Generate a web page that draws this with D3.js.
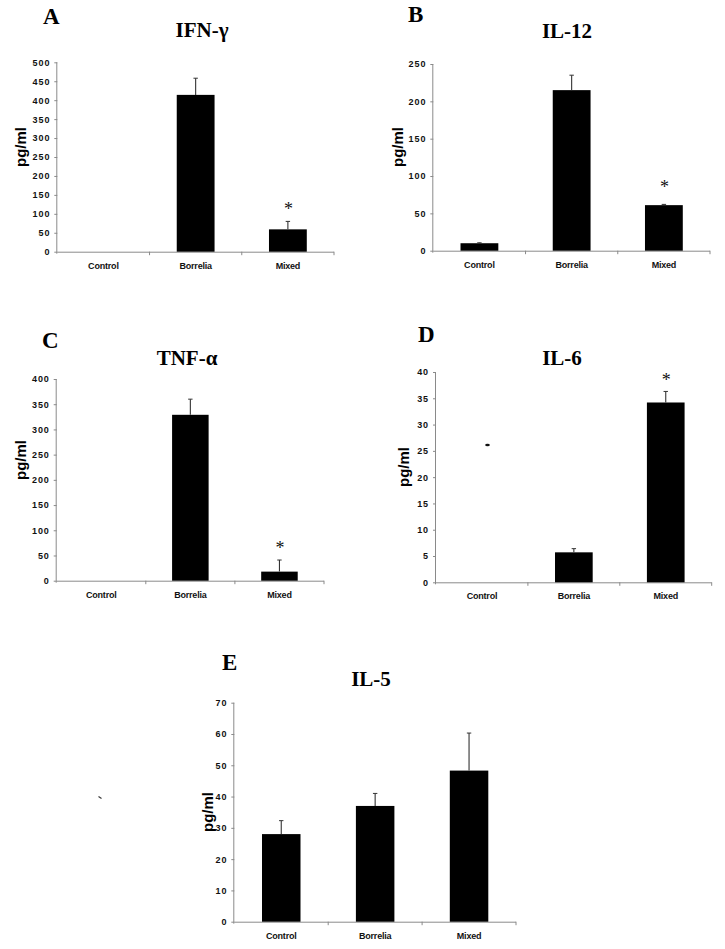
<!DOCTYPE html>
<html>
<head>
<meta charset="utf-8">
<script src="https://cdn.jsdelivr.net/npm/d3@7"></script>
<style>
  html, body { margin: 0; padding: 0; background: #fff; }
  svg { display: block; }
</style>
</head>
<body>
<svg id="chart" width="725" height="949"></svg>
<script>
// ---------------- DATA ----------------
const categories = ["Control", "Borrelia", "Mixed"];

const ifnValues   = [0, 414, 59];
const ifnErrors   = [0, 44, 21];
const ifnSig      = [false, false, true];
const ifnTicks    = [0, 50, 100, 150, 200, 250, 300, 350, 400, 450, 500];

const il12Values  = [10, 215, 61];
const il12Errors  = [0.6, 20, 1];
const il12Sig     = [false, false, true];
const il12Ticks   = [0, 50, 100, 150, 200, 250];

const tnfValues   = [0, 329, 18];
const tnfErrors   = [0, 31, 23];
const tnfSig      = [false, false, true];
const tnfTicks    = [0, 50, 100, 150, 200, 250, 300, 350, 400];

const il6Values   = [0, 5.7, 34.2];
const il6Errors   = [0, 0.7, 2.1];
const il6Sig      = [false, false, true];
const il6Ticks    = [0, 5, 10, 15, 20, 25, 30, 35, 40];

const il5Values   = [28, 37, 48.3];
const il5Errors   = [4.3, 4, 12];
const il5Sig      = [false, false, false];
const il5Ticks    = [0, 10, 20, 30, 40, 50, 60, 70];

// ---------------- LAYOUT ----------------
const panels = [
  { letter: "A", title: "IFN-\u03B3", values: ifnValues, errors: ifnErrors, sig: ifnSig, ticks: ifnTicks,
    x0: 57.3, x1: 334, y0: 251.7, y1: 62.3, titleX: 202, titleY: 37, letterX: 43, letterY: 24, ylabX: 20, ylabY: 147, starGap: 14 },
  { letter: "B", title: "IL-12", values: il12Values, errors: il12Errors, sig: il12Sig, ticks: il12Ticks,
    x0: 433.3, x1: 710, y0: 250.7, y1: 64, titleX: 567, titleY: 38, letterX: 408, letterY: 22, ylabX: 397, ylabY: 147, starGap: 19 },
  { letter: "C", title: "TNF-\u03B1", values: tnfValues, errors: tnfErrors, sig: tnfSig, ticks: tnfTicks,
    x0: 56.7, x1: 324, y0: 580.7, y1: 379, titleX: 187, titleY: 365, letterX: 42, letterY: 348, ylabX: 20, ylabY: 460, starGap: 14 },
  { letter: "D", title: "IL-6", values: il6Values, errors: il6Errors, sig: il6Sig, ticks: il6Ticks,
    x0: 436, x1: 711.7, y0: 582.3, y1: 372, titleX: 562, titleY: 365, letterX: 418, letterY: 342, ylabX: 403, ylabY: 467, starGap: 13 },
  { letter: "E", title: "IL-5", values: il5Values, errors: il5Errors, sig: il5Sig, ticks: il5Ticks,
    x0: 234.3, x1: 516, y0: 921.7, y1: 702.7, titleX: 371, titleY: 686, letterX: 222, letterY: 670, ylabX: 207, ylabY: 812, starGap: 14 }
];

const svg = d3.select("#chart");
const AXIS = "#8a8a8a";
const SANS = "'Liberation Sans', Arial, sans-serif";
const SERIF = "'Liberation Serif', 'Times New Roman', serif";

panels.forEach(p => {
  const g = svg.append("g");
  const tmax = p.ticks[p.ticks.length - 1];
  const y = d3.scaleLinear().domain([0, tmax]).range([p.y0, p.y1]);
  const x = d3.scaleBand().domain(categories).range([p.x0, p.x1])
    .paddingInner(0.59).paddingOuter(0.295);
  const step = x.step();

  // y axis
  const yAxis = d3.axisLeft(y).tickValues(p.ticks).tickSize(3).tickPadding(4).tickFormat(d3.format("d"));
  const ya = g.append("g").attr("transform", `translate(${p.x0},0)`).call(yAxis);
  ya.select(".domain").attr("stroke", AXIS).attr("d", `M-0.5,${p.y1}V${p.y0 + 2}`);
  ya.selectAll(".tick line").attr("stroke", AXIS);
  ya.selectAll("text").attr("font-family", SANS).attr("font-weight", "bold")
    .attr("font-size", 9).attr("letter-spacing", "0.9px").attr("fill", "#111");

  // x axis
  const xAxis = d3.axisBottom(x).tickSize(0).tickPadding(10.5);
  const xa = g.append("g").attr("transform", `translate(0,${p.y0})`).call(xAxis);
  xa.select(".domain").attr("stroke", AXIS).attr("d", `M${p.x0},0.5H${p.x1}`);
  xa.selectAll("text").attr("font-family", SANS).attr("font-weight", "bold")
    .attr("font-size", 9).attr("fill", "#111").attr("letter-spacing", "-0.2px");
  // category boundary ticks
  xa.selectAll(".sep").data(categories).enter().append("line")
    .attr("class", "sep")
    .attr("x1", d => x(d) + x.bandwidth() / 2 + step / 2)
    .attr("x2", d => x(d) + x.bandwidth() / 2 + step / 2)
    .attr("y1", 0).attr("y2", 3.5).attr("stroke", AXIS);

  // bars
  const data = categories.map((c, i) => ({ c, v: p.values[i], e: p.errors[i], s: p.sig[i] }));
  g.selectAll(".bar").data(data.filter(d => d.v > 0)).enter().append("rect")
    .attr("x", d => x(d.c)).attr("width", x.bandwidth())
    .attr("y", d => y(d.v)).attr("height", d => y(0) - y(d.v))
    .attr("fill", "#000");

  // error bars (upper only)
  const eb = data.filter(d => d.v > 0 && d.e > 0);
  g.selectAll(".err").data(eb).enter().append("line")
    .attr("x1", d => x(d.c) + x.bandwidth() / 2).attr("x2", d => x(d.c) + x.bandwidth() / 2)
    .attr("y1", d => y(d.v)).attr("y2", d => y(d.v + d.e))
    .attr("stroke", "#333").attr("stroke-width", 1.1);
  g.selectAll(".cap").data(eb).enter().append("line")
    .attr("x1", d => x(d.c) + x.bandwidth() / 2 - 2.2).attr("x2", d => x(d.c) + x.bandwidth() / 2 + 2.2)
    .attr("y1", d => y(d.v + d.e)).attr("y2", d => y(d.v + d.e))
    .attr("stroke", "#333").attr("stroke-width", 1);

  // significance asterisks
  g.selectAll(".star").data(data.filter(d => d.s)).enter().append("text")
    .attr("x", d => x(d.c) + x.bandwidth() / 2 + 0.5)
    .attr("y", d => y(d.v + d.e) - p.starGap + 8)
    .attr("text-anchor", "middle").attr("font-family", SERIF)
    .attr("font-size", 18).attr("fill", "#111").text("*");

  // title
  g.append("text").attr("x", p.titleX).attr("y", p.titleY).attr("text-anchor", "middle")
    .attr("font-family", SERIF).attr("font-weight", "bold").attr("font-size", 21)
    .attr("fill", "#000").text(p.title);
  // panel letter
  g.append("text").attr("x", p.letterX).attr("y", p.letterY)
    .attr("font-family", SERIF).attr("font-weight", "bold").attr("font-size", 23)
    .attr("fill", "#000").text(p.letter);
  // y label
  g.append("text").attr("transform", `translate(${p.ylabX},${p.ylabY}) rotate(-90)`)
    .attr("text-anchor", "middle").attr("dominant-baseline", "central")
    .attr("font-family", SANS).attr("font-weight", "bold").attr("font-size", 15)
    .attr("fill", "#000").text("pg/ml");
});

// scanning specks visible in the reference
svg.append("ellipse").attr("cx", 487.5).attr("cy", 445).attr("rx", 2.3).attr("ry", 1.3).attr("fill", "#111");
svg.append("line").attr("x1", 98.5).attr("y1", 796.5).attr("x2", 101.5).attr("y2", 798.5).attr("stroke", "#333").attr("stroke-width", 1.2);
</script>
</body>
</html>
